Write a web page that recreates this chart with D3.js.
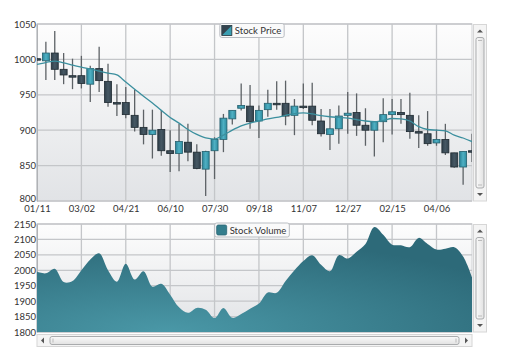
<!DOCTYPE html>
<html>
<head>
<meta charset="utf-8">
<script src="https://cdn.jsdelivr.net/npm/d3@7"></script>
<style>
  body { margin: 0; background: #fff; }
  text { font-family: "Segoe UI", Lato, "Open Sans", sans-serif; fill: #333; }
</style>
</head>
<body>
<div id="chart"></div>
<script>
// ---- data ----
const startDate = new Date(2010, 0, 11);
const stepDays = 10;

const opens  = [1001, 998,1009, 986, 977, 977, 965, 987, 969, 939, 939, 921, 904, 894, 901, 871, 867, 883, 869, 845,
                 871, 887, 916, 931, 934, 913, 929, 938, 938, 921, 934, 934, 913, 894, 902, 921, 925, 907, 900, 912,
                 922, 925, 921, 898, 895, 882, 887, 868, 848, 871];
const highs  = [1002,1025,1040,1009,1001,1005, 991,1018, 994, 965, 961, 957, 929, 929, 928, 900, 909, 909, 880, 871,
                 890, 923, 928, 966, 964, 935, 957, 969, 970, 944, 966, 967, 930, 930, 935, 954, 952, 931, 912, 945,
                 944, 944, 953, 921, 927, 901, 909, 868, 870, 895];
const lows   = [ 998, 971, 971, 965, 958, 959, 940, 954, 933, 920, 917, 898, 880, 860, 864, 841, 842, 856, 845, 807,
                 831, 869, 908, 928, 902, 889, 919, 929, 907, 893, 930, 907, 891, 872, 881, 895, 892, 878, 863, 883,
                 894, 909, 888, 875, 878, 878, 865, 847, 823, 855];
const closes = [ 999,1009, 986, 978, 976, 966, 987, 970, 939, 938, 922, 904, 894, 900, 871, 867, 884, 869, 846, 870,
                 887, 917, 928, 935, 912, 928, 938, 937, 920, 934, 933, 914, 895, 902, 920, 924, 907, 900, 912, 922,
                 926, 922, 898, 896, 881, 887, 868, 848, 870, 870];
const movingAvg = [993, 995.5, 997.7, 995, 992, 989, 986.5, 983.5, 980.5, 978, 968, 958, 948, 938.5, 928, 918, 910, 901, 894, 889,
                   887.5, 893, 900, 906, 910, 913, 916, 918, 921, 923.5, 924.5, 923, 920.5, 919, 918, 917, 915, 913, 912, 914,
                   916.5, 916, 913, 905, 901, 900, 899, 893, 889, 884];
const volumes = [1995, 1990, 2005, 1962, 1965, 2000, 2035, 2055, 2000, 1963, 2021, 1970, 1997, 1947, 1956, 1921, 1880, 1862, 1878, 1872,
                 1845, 1878, 1846, 1858, 1875, 1892, 1928, 1927, 1965, 2000, 2030, 2049, 2018, 1997, 2049, 2038, 2060, 2085, 2140, 2115,
                 2083, 2081, 2075, 2105, 2085, 2067, 2070, 2075, 2045, 1978];

const priceTicks = [800, 850, 900, 950, 1000, 1050];
const volumeTicks = [1800, 1850, 1900, 1950, 2000, 2050, 2100, 2150];
const dateTickStepDays = 50;

// ---- layout ----
const width = 505, height = 362;
const left = 37, right = 472;
const top1 = 24, bottom1 = 201;
const top2 = 224, bottom2 = 332;

const day = 24 * 3600 * 1000;
const dates = opens.map((d, i) => new Date(startDate.getTime() + i * stepDays * day));
const candles = opens.map((o, i) => ({date: dates[i], open: o, high: highs[i], low: lows[i], close: closes[i]}));

const svg = d3.select('#chart').append('svg')
    .attr('width', width)
    .attr('height', height);

const defs = svg.append('defs');

// plot background gradient
const bg = defs.append('linearGradient').attr('id', 'plotBg').attr('x1', 0).attr('y1', 0).attr('x2', 0).attr('y2', 1);
bg.append('stop').attr('offset', '0%').attr('stop-color', '#fdfdfd');
bg.append('stop').attr('offset', '100%').attr('stop-color', '#e1e3e6');

const up = defs.append('linearGradient').attr('id', 'upFill').attr('x1', 0).attr('y1', 0).attr('x2', 1).attr('y2', 0);
up.append('stop').attr('offset', '0%').attr('stop-color', '#2a8398');
up.append('stop').attr('offset', '50%').attr('stop-color', '#4fb0c3');
up.append('stop').attr('offset', '100%').attr('stop-color', '#2e8ca0');

const down = defs.append('linearGradient').attr('id', 'downFill').attr('x1', 0).attr('y1', 0).attr('x2', 1).attr('y2', 0);
down.append('stop').attr('offset', '0%').attr('stop-color', '#2f3f4a');
down.append('stop').attr('offset', '50%').attr('stop-color', '#465864');
down.append('stop').attr('offset', '100%').attr('stop-color', '#33434e');

const areaFill = defs.append('radialGradient').attr('id', 'areaFill')
    .attr('cx', 0.3).attr('cy', 1).attr('r', 0.9);
areaFill.append('stop').attr('offset', '0%').attr('stop-color', '#4a98a7');
areaFill.append('stop').attr('offset', '100%').attr('stop-color', '#2d6a79');

const scrollThumb = defs.append('linearGradient').attr('id', 'thumb').attr('x1', 0).attr('y1', 0).attr('x2', 1).attr('y2', 0);
scrollThumb.append('stop').attr('offset', '0%').attr('stop-color', '#fafafa');
scrollThumb.append('stop').attr('offset', '100%').attr('stop-color', '#e2e2e2');

const scrollThumbH = defs.append('linearGradient').attr('id', 'thumbH').attr('x1', 0).attr('y1', 0).attr('x2', 0).attr('y2', 1);
scrollThumbH.append('stop').attr('offset', '0%').attr('stop-color', '#fafafa');
scrollThumbH.append('stop').attr('offset', '100%').attr('stop-color', '#e2e2e2');

defs.append('clipPath').attr('id', 'clip1').append('rect')
    .attr('x', left).attr('y', top1).attr('width', right - left).attr('height', bottom1 - top1);
defs.append('clipPath').attr('id', 'clip2').append('rect')
    .attr('x', left).attr('y', top2).attr('width', right - left).attr('height', bottom2 - top2);

// ---- scales ----
const x = d3.scaleTime()
    .domain([dates[0], dates[dates.length - 1]])
    .range([left, right]);

const y1 = d3.scaleLinear().domain([800, 1050]).range([bottom1, top1]);
const y2 = d3.scaleLinear().domain([1800, 2150]).range([bottom2, top2]);

const dateTicks = d3.range(0, 10).map(k => new Date(startDate.getTime() + k * dateTickStepDays * day));

// ---- helper for plot frame + grid ----
function drawFrame(yScale, yTicks, yTop, yBottom) {
    const g = svg.append('g');
    g.append('rect')
        .attr('x', left).attr('y', yTop)
        .attr('width', right - left).attr('height', yBottom - yTop)
        .attr('fill', 'url(#plotBg)')
        .attr('stroke', '#d0d2d5');

    g.selectAll('.hgrid').data(yTicks).join('line')
        .attr('x1', left).attr('x2', right)
        .attr('y1', d => yScale(d)).attr('y2', d => yScale(d))
        .attr('stroke', '#c4c6c9').attr('stroke-width', 1.3);

    g.selectAll('.vgrid').data(dateTicks).join('line')
        .attr('x1', d => x(d)).attr('x2', d => x(d))
        .attr('y1', yTop).attr('y2', yBottom)
        .attr('stroke', '#c4c6c9').attr('stroke-width', 1.3);

    const yAxis = svg.append('g')
        .attr('transform', 'translate(' + left + ',0)')
        .call(d3.axisLeft(yScale).tickValues(yTicks).tickFormat(d3.format('d')).tickSize(0).tickPadding(1));
    yAxis.select('.domain').attr('stroke', '#b0b2b5');
    yAxis.selectAll('text').style('font-size', '9.5px').style('fill', '#333');
    return yAxis;
}

const priceAxis = drawFrame(y1, priceTicks, top1, bottom1);
drawFrame(y2, volumeTicks, top2, bottom2);

// lowest price label sits right on top of the first date label, lift it a touch
priceAxis.selectAll('.tick text').filter(d => d === 800).attr('dy', '0.05em');

// date axis under top chart
const xAxis = svg.append('g')
    .attr('transform', 'translate(0,' + bottom1 + ')')
    .call(d3.axisBottom(x).tickValues(dateTicks).tickFormat(d3.timeFormat('%m/%d')).tickSize(0).tickPadding(4));
xAxis.select('.domain').remove();
xAxis.selectAll('text').style('font-size', '9.5px').style('fill', '#333');

// ---- candlesticks ----
const bodyW = 7;
const candleG = svg.append('g').attr('clip-path', 'url(#clip1)');

candleG.selectAll('.wick').data(candles).join('line')
    .attr('x1', d => x(d.date)).attr('x2', d => x(d.date))
    .attr('y1', d => y1(d.high)).attr('y2', d => y1(d.low))
    .attr('stroke', '#5d6266').attr('stroke-width', 1.3);

candleG.selectAll('.body').data(candles).join('rect')
    .attr('x', d => x(d.date) - bodyW / 2)
    .attr('width', bodyW)
    .attr('y', d => y1(Math.max(d.open, d.close)))
    .attr('height', d => Math.max(1.5, Math.abs(y1(d.open) - y1(d.close))))
    .attr('fill', d => d.close > d.open ? 'url(#upFill)' : 'url(#downFill)')
    .attr('stroke', d => d.close > d.open ? '#24606e' : '#1f2a31')
    .attr('stroke-width', 0.8);

// moving average
const maLine = d3.line()
    .x((d, i) => x(dates[i]))
    .y(d => y1(d))
    .curve(d3.curveMonotoneX);

candleG.append('path')
    .datum(movingAvg)
    .attr('d', maLine)
    .attr('fill', 'none')
    .attr('stroke', '#3b8f9e')
    .attr('stroke-width', 1.3);

// ---- volume area ----
const area = d3.area()
    .x((d, i) => x(dates[i]))
    .y0(y2(1800))
    .y1(d => y2(d))
    .curve(d3.curveCatmullRom.alpha(0.5));

svg.append('g').attr('clip-path', 'url(#clip2)')
    .append('path')
    .datum(volumes)
    .attr('d', area)
    .attr('fill', 'url(#areaFill)');

// ---- legends ----
function legend(cx, cy, label, kind) {
    const g = svg.append('g');
    const t = g.append('text')
        .attr('y', cy + 3.5)
        .style('font-size', '9.5px')
        .style('fill', '#333')
        .text(label);
    const tw = t.node().getComputedTextLength();
    const w = tw + 18;
    const x0 = cx - w / 2;
    g.insert('rect', 'text')
        .attr('x', x0).attr('y', cy - 7)
        .attr('width', w).attr('height', 14)
        .attr('rx', 2)
        .attr('fill', '#fafafa')
        .attr('stroke', '#b9bdc2');
    t.attr('x', x0 + 15);
    if (kind === 'candle') {
        g.append('rect').attr('x', x0 + 2).attr('y', cy - 5).attr('width', 10).attr('height', 10)
            .attr('fill', '#3a9fb2').attr('stroke', '#25333b').attr('stroke-width', 0.8);
        g.append('path')
            .attr('d', 'M' + (x0 + 2) + ',' + (cy - 5) + 'h10l-10,10z')
            .attr('fill', '#34444f');
    } else {
        g.append('rect').attr('x', x0 + 2).attr('y', cy - 5).attr('width', 10).attr('height', 10)
            .attr('rx', 1.5)
            .attr('fill', '#347e8d').attr('stroke', '#2a6473').attr('stroke-width', 0.8);
    }
}

legend(252, 30.5, 'Stock Price', 'candle');
legend(252, 230, 'Stock Volume', 'area');

// ---- scrollbars (decoration) ----
function vScroll(x0, yTop, yBottom) {
    const g = svg.append('g');
    g.append('rect').attr('x', x0).attr('y', yTop).attr('width', 13).attr('height', yBottom - yTop)
        .attr('fill', '#f4f4f4').attr('stroke', '#d6d6d6');
    g.append('path').attr('d', 'M' + (x0 + 3.5) + ',' + (yTop + 8) + 'l3,-3l3,3z').attr('fill', '#555');
    g.append('path').attr('d', 'M' + (x0 + 3.5) + ',' + (yBottom - 8) + 'l3,3l3,-3z').attr('fill', '#555');
    g.append('rect').attr('x', x0 + 2.5).attr('y', yTop + 13).attr('width', 8).attr('height', yBottom - yTop - 26)
        .attr('rx', 2).attr('fill', 'url(#thumb)').attr('stroke', '#a9abad');
    g.append('line').attr('x1', x0 + 4.5).attr('x2', x0 + 8.5).attr('y1', yTop + 16).attr('y2', yTop + 16).attr('stroke', '#bbb');
    g.append('line').attr('x1', x0 + 4.5).attr('x2', x0 + 8.5).attr('y1', yBottom - 16).attr('y2', yBottom - 16).attr('stroke', '#bbb');
}

vScroll(473.5, 24.5, 201);
vScroll(473.5, 224.5, 332);

// horizontal scrollbar under volume
const hs = svg.append('g');
hs.append('rect').attr('x', left).attr('y', 334.5).attr('width', right - left).attr('height', 12)
    .attr('fill', '#f4f4f4').attr('stroke', '#d6d6d6');
hs.append('path').attr('d', 'M' + (left + 7) + ',' + 337.5 + 'l-3,3l3,3z').attr('fill', '#555');
hs.append('path').attr('d', 'M' + (right - 7) + ',' + 337.5 + 'l3,3l-3,3z').attr('fill', '#555');
hs.append('rect').attr('x', left + 13).attr('y', 336.5).attr('width', right - left - 26).attr('height', 8)
    .attr('rx', 2).attr('fill', 'url(#thumbH)').attr('stroke', '#a9abad');
hs.append('line').attr('x1', left + 16).attr('x2', left + 16).attr('y1', 338.5).attr('y2', 342.5).attr('stroke', '#bbb');
hs.append('line').attr('x1', right - 16).attr('x2', right - 16).attr('y1', 338.5).attr('y2', 342.5).attr('stroke', '#bbb');
</script>
</body>
</html>
